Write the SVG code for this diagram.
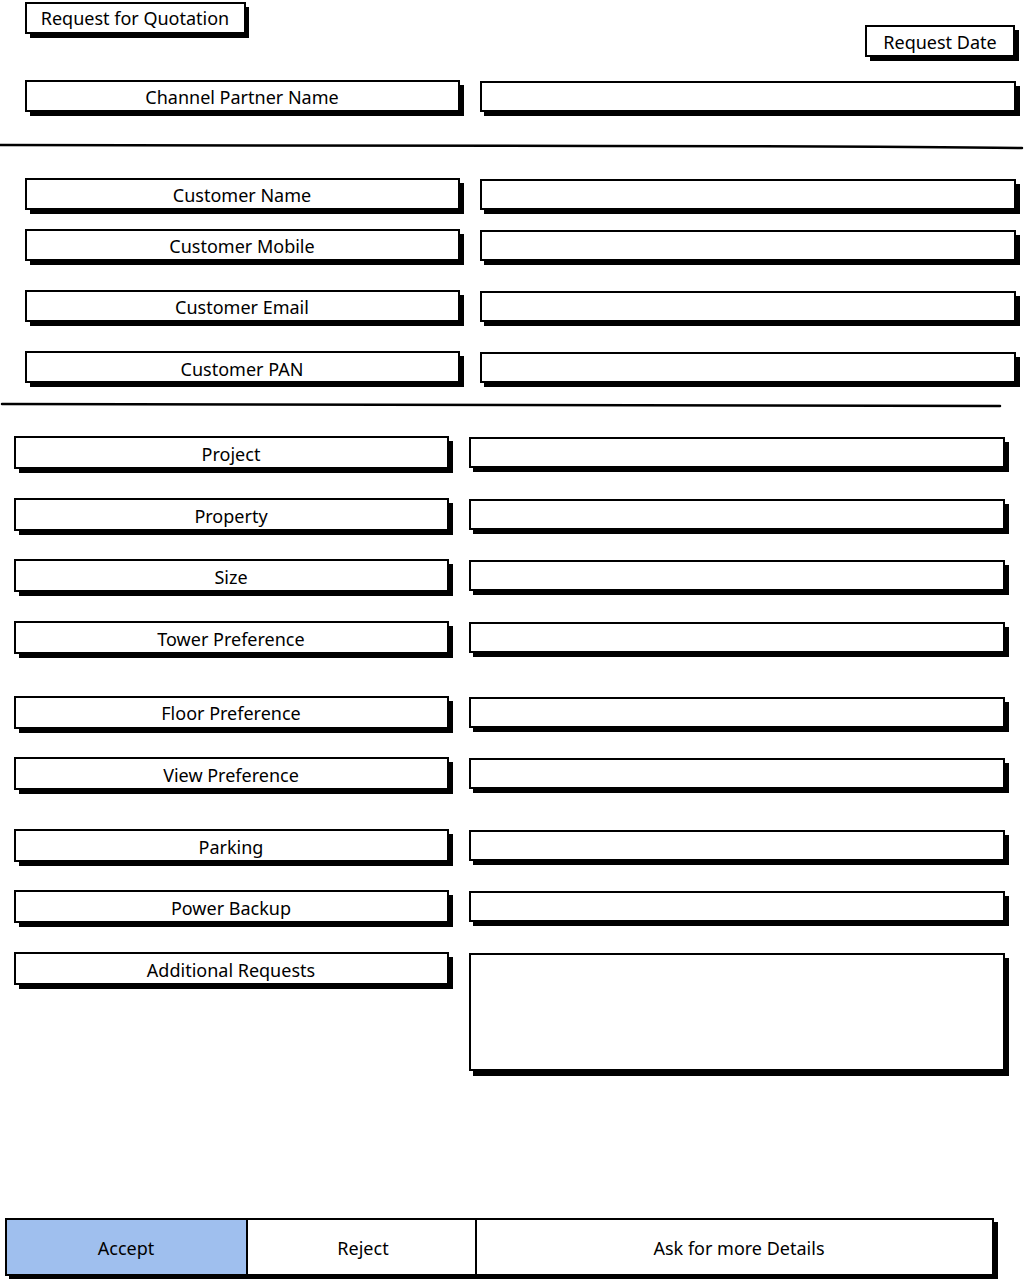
<svg xmlns="http://www.w3.org/2000/svg" width="1024" height="1280" viewBox="0 0 1024 1280">
<style>
.sh{fill:#000}
.bx{fill:#fff;stroke:#000;stroke-width:2}
.t{font-family:"Noto Sans","Liberation Sans",sans-serif;font-size:18px;fill:#000;text-anchor:middle;dominant-baseline:central}
.ln{stroke:#000;stroke-width:2.5;fill:none;stroke-linecap:round}
</style>
<rect width="1024" height="1280" fill="#fff"/>
<g id="title"><rect class="sh" x="30" y="7" width="219" height="31"/><rect class="bx" x="26" y="3" width="219" height="30"/><text class="t" x="135" y="18">Request for Quotation</text></g>
<g id="reqdate"><rect class="sh" x="870" y="30" width="149" height="31"/><rect class="bx" x="866" y="26" width="148" height="30"/><text class="t" x="940" y="42">Request Date</text></g>
<g id="cpname"><rect class="sh" x="30" y="85" width="434" height="31"/><rect class="bx" x="26" y="81" width="433" height="30"/><text class="t" x="242" y="97">Channel Partner Name</text></g>
<g id="cpname-in"><rect class="sh" x="484" y="86" width="536" height="30"/><rect class="bx" x="481" y="82" width="534" height="29"/></g>
<g id="separators"><path class="ln" d="M0 145 Q300 146 600 146 T1022 148"/><path class="ln" d="M2 404 Q500 404 1000 406"/></g>
<g id="custname"><rect class="sh" x="30" y="183" width="434" height="31"/><rect class="bx" x="26" y="179" width="433" height="30"/><text class="t" x="242" y="195">Customer Name</text></g>
<g id="custname-in"><rect class="sh" x="484" y="184" width="536" height="30"/><rect class="bx" x="481" y="180" width="534" height="29"/></g>
<g id="custmobile"><rect class="sh" x="30" y="234" width="434" height="31"/><rect class="bx" x="26" y="230" width="433" height="30"/><text class="t" x="242" y="246">Customer Mobile</text></g>
<g id="custmobile-in"><rect class="sh" x="484" y="235" width="536" height="30"/><rect class="bx" x="481" y="231" width="534" height="29"/></g>
<g id="custemail"><rect class="sh" x="30" y="295" width="434" height="31"/><rect class="bx" x="26" y="291" width="433" height="30"/><text class="t" x="242" y="307">Customer Email</text></g>
<g id="custemail-in"><rect class="sh" x="484" y="296" width="536" height="30"/><rect class="bx" x="481" y="292" width="534" height="29"/></g>
<g id="custpan"><rect class="sh" x="30" y="356" width="434" height="31"/><rect class="bx" x="26" y="352" width="433" height="30"/><text class="t" x="242" y="369">Customer PAN</text></g>
<g id="custpan-in"><rect class="sh" x="484" y="357" width="536" height="30"/><rect class="bx" x="481" y="353" width="534" height="29"/></g>
<g id="project"><rect class="sh" x="19" y="441" width="434" height="32"/><rect class="bx" x="15" y="437" width="433" height="31"/><text class="t" x="231" y="454">Project</text></g>
<g id="project-in"><rect class="sh" x="473" y="442" width="536" height="30"/><rect class="bx" x="470" y="438" width="534" height="29"/></g>
<g id="property"><rect class="sh" x="19" y="503" width="434" height="32"/><rect class="bx" x="15" y="499" width="433" height="31"/><text class="t" x="231" y="516">Property</text></g>
<g id="property-in"><rect class="sh" x="473" y="504" width="536" height="30"/><rect class="bx" x="470" y="500" width="534" height="29"/></g>
<g id="size"><rect class="sh" x="19" y="564" width="434" height="32"/><rect class="bx" x="15" y="560" width="433" height="31"/><text class="t" x="231" y="577">Size</text></g>
<g id="size-in"><rect class="sh" x="473" y="565" width="536" height="30"/><rect class="bx" x="470" y="561" width="534" height="29"/></g>
<g id="tower"><rect class="sh" x="19" y="626" width="434" height="32"/><rect class="bx" x="15" y="622" width="433" height="31"/><text class="t" x="231" y="639">Tower Preference</text></g>
<g id="tower-in"><rect class="sh" x="473" y="627" width="536" height="30"/><rect class="bx" x="470" y="623" width="534" height="29"/></g>
<g id="floor"><rect class="sh" x="19" y="701" width="434" height="32"/><rect class="bx" x="15" y="697" width="433" height="31"/><text class="t" x="231" y="713">Floor Preference</text></g>
<g id="floor-in"><rect class="sh" x="473" y="702" width="536" height="30"/><rect class="bx" x="470" y="698" width="534" height="29"/></g>
<g id="view"><rect class="sh" x="19" y="762" width="434" height="32"/><rect class="bx" x="15" y="758" width="433" height="31"/><text class="t" x="231" y="775">View Preference</text></g>
<g id="view-in"><rect class="sh" x="473" y="763" width="536" height="30"/><rect class="bx" x="470" y="759" width="534" height="29"/></g>
<g id="parking"><rect class="sh" x="19" y="834" width="434" height="32"/><rect class="bx" x="15" y="830" width="433" height="31"/><text class="t" x="231" y="847">Parking</text></g>
<g id="parking-in"><rect class="sh" x="473" y="835" width="536" height="30"/><rect class="bx" x="470" y="831" width="534" height="29"/></g>
<g id="power"><rect class="sh" x="19" y="895" width="434" height="32"/><rect class="bx" x="15" y="891" width="433" height="31"/><text class="t" x="231" y="908">Power Backup</text></g>
<g id="power-in"><rect class="sh" x="473" y="896" width="536" height="30"/><rect class="bx" x="470" y="892" width="534" height="29"/></g>
<g id="additional"><rect class="sh" x="19" y="957" width="434" height="32"/><rect class="bx" x="15" y="953" width="433" height="31"/><text class="t" x="231" y="970">Additional Requests</text></g>
<g id="additional-in"><rect class="sh" x="473" y="958" width="536" height="118"/><rect class="bx" x="470" y="954" width="534" height="116"/></g>
<g id="buttons">
<rect class="sh" x="9" y="1222" width="989" height="57"/>
<g id="accept"><rect x="6" y="1219" width="241" height="56" fill="#9fbfee" stroke="#000" stroke-width="2"/><text class="t" x="126" y="1248">Accept</text></g>
<g id="reject"><rect class="bx" x="247" y="1219" width="229" height="56"/><text class="t" x="363" y="1248">Reject</text></g>
<g id="askmore"><rect class="bx" x="476" y="1219" width="517" height="56"/><text class="t" x="739" y="1248">Ask for more Details</text></g>
</g>
</svg>
